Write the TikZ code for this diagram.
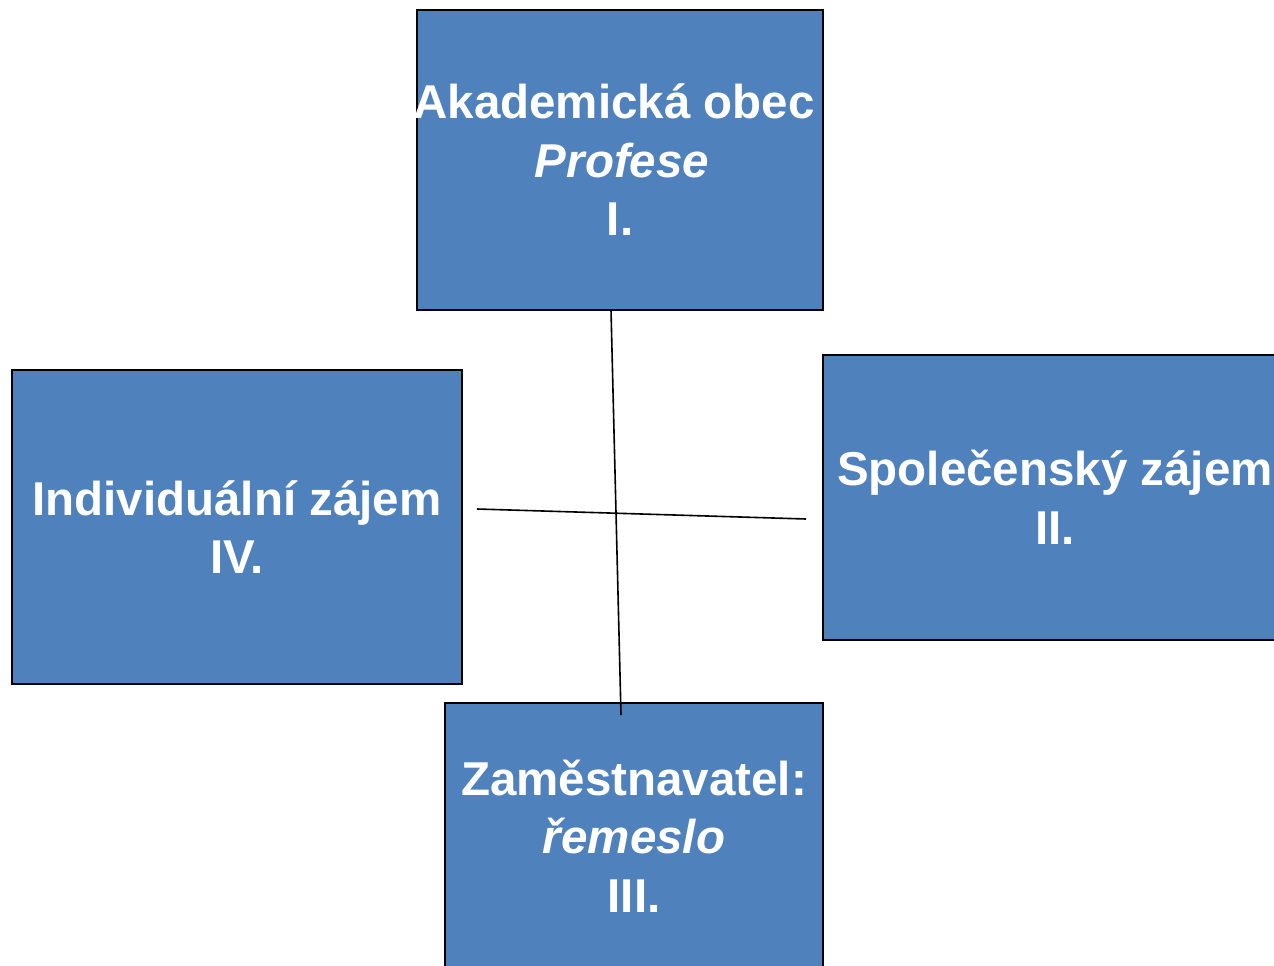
\documentclass[tikz,border=0pt]{standalone}
\usepackage{fontspec}
\setmainfont{Liberation Sans}
\definecolor{boxblue}{HTML}{4F81BD}
\begin{document}
\begin{tikzpicture}[x=1pt,y=-1pt,
  box/.style={draw=black,line width=1.5pt,fill=boxblue,text=white,inner sep=0pt,
    align=center,font={\fontsize{47.5}{58.5}\selectfont\bfseries}},
  link/.style={draw=black,line width=1.6pt}]
\useasboundingbox (0,0) rectangle (1274,966);
\clip (0,0) rectangle (1274,966);
\node[box,minimum width=406pt,minimum height=300pt] (top) at (620,160) {\makebox[0pt]{Akademická obec\hspace{12pt}}\\\hspace{4pt}\textit{Profese}\\I.};
\node[box,minimum width=450pt,minimum height=314pt] (left) at (237,527) {Individuální zájem\\IV.};
\node[box,minimum width=464pt,minimum height=285pt] (right) at (1055,497.5) {Společenský zájem\\II.};
\node[box,minimum width=378pt,minimum height=266pt] (bottom) at (634,836) {Zaměstnavatel:\\\textit{řemeslo}\\III.};
\coordinate (v1) at (611,310);
\coordinate (v2) at (621,715);
\coordinate (h1) at (477,509);
\coordinate (h2) at (806,519);
\draw[link] (v1) -- (v2);
\draw[link] (h1) -- (h2);
\end{tikzpicture}
\end{document}
